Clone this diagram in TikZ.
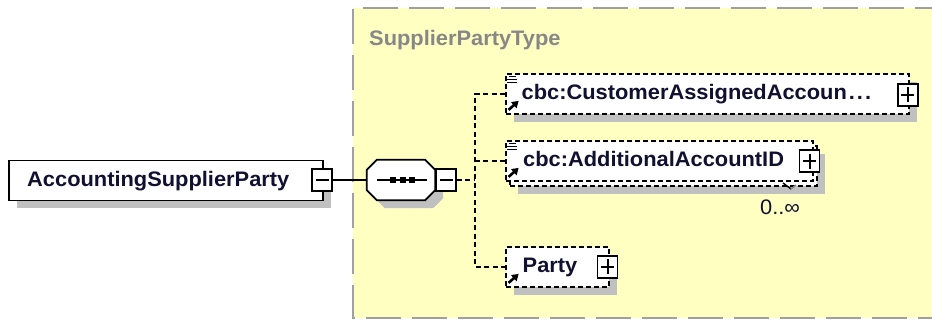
\documentclass[tikz,border=0pt]{standalone}
\usepackage{fontspec}
\setmainfont{Liberation Sans}[FakeStretch=1.04]
\usetikzlibrary{arrows.meta,shadows,backgrounds}
\definecolor{bgyellow}{RGB}{255,255,194}
\definecolor{shadowgray}{RGB}{192,192,192}
\definecolor{bordergray}{RGB}{160,160,160}
\definecolor{titlegray}{RGB}{135,135,135}
\definecolor{ink}{RGB}{16,16,48}
\tikzset{
  shadowed/.style={drop shadow={shadow xshift=8pt, shadow yshift=-8pt, fill=shadowgray, opacity=1}},
  elembox/.style={draw=black, line width=1.8pt, fill=white, inner sep=0pt, minimum height=40pt},
  optbox/.style={elembox, dash pattern=on 5pt off 3pt},
  pmbox/.style={draw=black, line width=1.8pt, fill=white, minimum width=20pt, minimum height=22pt, inner sep=0pt},
  plusbox/.style={pmbox, path picture={
      \draw[line width=2pt] ([xshift=-6.5pt]path picture bounding box.center) -- ([xshift=6.5pt]path picture bounding box.center);
      \draw[line width=2pt] ([yshift=-7.5pt]path picture bounding box.center) -- ([yshift=7.5pt]path picture bounding box.center);}},
  minusbox/.style={pmbox, path picture={
      \draw[line width=2pt] ([xshift=-6.5pt]path picture bounding box.center) -- ([xshift=6.5pt]path picture bounding box.center);}},
  conn/.style={line width=1.8pt, dash pattern=on 5pt off 3.5pt},
  lbl/.style={font=\fontsize{21}{25}\selectfont\bfseries, text=ink, anchor=base west, inner sep=0pt},
  icon/.style={line width=2.6pt, -{Triangle[length=6.5pt,width=8pt]}},
  listline/.style={line width=1.2pt},
}
\begin{document}
\begin{tikzpicture}[x=1pt,y=-1pt]
\useasboundingbox (0,0) rectangle (932,320);
\begin{scope}[on background layer]
  \fill[white] (0,0) rectangle (932,320);
  \clip (0,0) rectangle (932,320);
  \fill[bgyellow] (353,8) rectangle (950,318);
  \draw[bordergray, line width=2pt, dash pattern=on 35pt off 11pt] (950,8) -- (353,8) -- (353,318) -- (950,318);
\end{scope}
\node[lbl, text=titlegray] (title) at (369,46) {SupplierPartyType};

% main element
\node[elembox, shadowed, minimum width=314pt] (main) at (166,180.5) {};
\node[lbl] (mainlbl) at (27,187) {AccountingSupplierParty};
\node[minusbox] (mainpm) at (322,180) {};

% sequence compositor
\node[minimum width=68pt, minimum height=40pt, inner sep=0pt] (seq) at (401,180) {};
\draw[line width=1.8pt, fill=white, shadowed]
  ([xshift=10pt]seq.north west) -- ([xshift=-10pt]seq.north east) -- ([yshift=-10pt]seq.north east)
  -- ([yshift=10pt]seq.south east) -- ([xshift=-10pt]seq.south east) -- ([xshift=10pt]seq.south west)
  -- ([yshift=10pt]seq.south west) -- ([yshift=-10pt]seq.north west) -- cycle;
\draw[line width=2pt] ([xshift=-24pt]seq.center) -- ([xshift=26pt]seq.center);
\foreach \dx in {-8,1.5,11} \fill ([shift={(\dx-3,-3)}]seq.center) rectangle ++(6,6);
\node[minusbox] (seqpm) at (446,180) {};
\draw[line width=1.8pt] (mainpm.east) -- (seq.west);
\coordinate (trunk) at (475,180);

% child 1
\node[optbox, shadowed, minimum width=403pt] (c1) at (707.5,94) {};
\node[lbl] (c1lbl) at (521.5,100) {cbc:CustomerAssignedAccoun\kern2pt.\kern2pt.\kern2pt.};
\node[plusbox] (c1pm) at (907.8,94.7) {};

% child 2 (repeating)
\node[optbox, shadowed, minimum width=307pt] (c2back) at (663.5,166) {};
\node[optbox, minimum width=307pt] (c2) at (659.5,161) {};
\node[lbl] (c2lbl) at (523,167) {cbc:AdditionalAccountID};
\node[plusbox] (c2pm) at (809.5,161.2) {};
\node[font=\fontsize{21}{25}\selectfont, text=ink, anchor=base west, inner sep=0pt] (mult) at (760,215) {0..∞};
\draw[line width=1.4pt] (783,183) -- (791,189);
\draw[line width=1.4pt, shadowgray!70!black] (791,189) -- (796,185);

% child 3
\node[optbox, shadowed, minimum width=103pt] (c3) at (557.5,267) {};
\node[lbl] (c3lbl) at (522.5,273) {Party};
\node[plusbox] (c3pm) at (607.5,266.7) {};

% connectors (behind the boxes)
\begin{scope}[on background layer]
  \draw[conn] (seqpm.east) -- (trunk);
  \draw[conn] (c1.west) -- (c1.west -| trunk) |- (c3.west);
  \draw[conn] (c2.west) -- (c2.west -| trunk);
\end{scope}

% icons
\foreach \n in {c1,c2} {
  \draw[listline] ([shift={(4,3.5)}]\n.north west) -- ++(7,0);
  \draw[listline] ([shift={(2,6.3)}]\n.north west) -- ++(10,0);
  \draw[listline] ([shift={(2,9.1)}]\n.north west) -- ++(10,0);
}
\foreach \n in {c1,c2,c3} {
  \draw[icon] ([shift={(3.5,-5)}]\n.south west) -- ++(10,-9);
}
\end{tikzpicture}
\end{document}
